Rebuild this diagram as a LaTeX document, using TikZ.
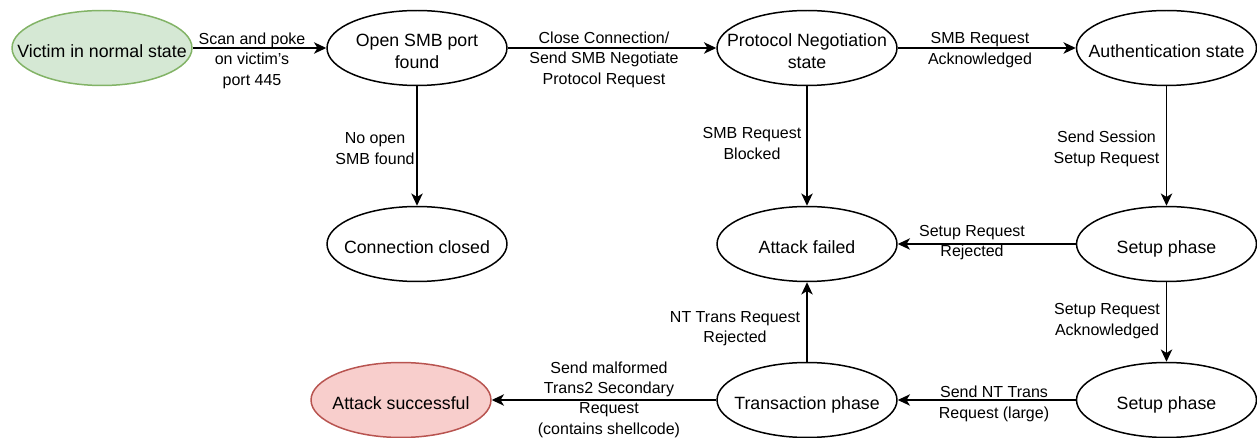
\documentclass[tikz,border=0pt]{standalone}
\usepackage{fontspec}
\setmainfont{Liberation Sans}
\usetikzlibrary{shapes.geometric,arrows.meta}
\definecolor{startfill}{HTML}{D5E8D4}
\definecolor{startline}{HTML}{82B366}
\definecolor{goalfill}{HTML}{F8CECC}
\definecolor{goalline}{HTML}{B85450}
% state text is centred without widening the fixed-size ellipse,
% and set a little below the centre line
\newcommand\statetext[1]{\makebox[0pt]{\raisebox{-3pt}[\height][\depth]{\begin{tabular}{@{}c@{}}#1\end{tabular}}}}
\begin{document}
\begin{tikzpicture}[x=0.02cm,y=-0.02cm,
  state/.style={ellipse, draw=black, line width=0.85pt, fill=white,
    minimum width=3.6cm, minimum height=1.5cm, inner sep=0pt,
    font=\fontsize{10.1}{12.3}\selectfont},
  startstate/.style={state, draw=startline, fill=startfill},
  goalstate/.style={state, draw=goalline, fill=goalfill},
  lbl/.style={inner sep=0pt, align=center, font=\fontsize{9.1}{11.6}\selectfont},
  flow/.style={draw, line width=0.85pt, -{Stealth[length=7pt,width=6.5pt,inset=2pt]}}]
\useasboundingbox (0,0) rectangle (1257,438);

% states
\node[startstate] (victim)  at (102,48)    {\statetext{Victim in normal state}};
\node[state]      (open)    at (417,48)    {\statetext{Open SMB port\\found}};
\node[state]      (proto)   at (807,48)    {\statetext{Protocol Negotiation\\state}};
\node[state]      (auth)    at (1166.5,48) {\statetext{Authentication state}};
\node[state]      (closed)  at (417,244)   {\statetext{Connection closed}};
\node[state]      (failed)  at (807,244)   {\statetext{Attack failed}};
\node[state]      (setupA)  at (1166.5,244){\statetext{Setup phase}};
\node[goalstate]  (success) at (401,400)   {\statetext{Attack successful}};
\node[state]      (trans)   at (807,400)   {\statetext{Transaction phase}};
\node[state]      (setupB)  at (1166.5,400){\statetext{Setup phase}};

% transitions
\draw[flow] (victim.east) -- (open.west);
\draw[flow] (open.east) -- (proto.west);
\draw[flow] (proto.east) -- (auth.west);
\draw[flow] (open.south) -- (closed.north);
\draw[flow] (proto.south) -- (failed.north);
\draw[flow] (auth.south) -- (setupA.north);
\draw[flow] (setupA.west) -- (failed.east);
\draw[flow] (setupA.south) -- (setupB.north);
\draw[flow] (setupB.west) -- (trans.east);
\draw[flow] (trans.north) -- (failed.south);
\draw[flow] (trans.west) -- (success.east);

% transition labels
\node[lbl] (l1)  at (252,60.5)    {Scan and poke\\on victim's\\port 445};
\node[lbl] (l2)  at (604,59.5)    {Close Connection/\\Send SMB Negotiate\\Protocol Request};
\node[lbl] (l3)  at (980,50)      {SMB Request\\Acknowledged};
\node[lbl] (l4)  at (375,148.5)   {No open\\SMB found};
\node[lbl] (l5)  at (752,143.5)   {SMB Request\\Blocked};
\node[lbl] (l6)  at (1106.5,148.7){Send Session\\Setup Request};
\node[lbl] (l7)  at (972,242.7)   {Setup Request\\Rejected};
\node[lbl] (l8)  at (1107,321)    {Setup Request\\Acknowledged};
\node[lbl] (l9)  at (994,403.7)   {Send NT Trans\\Request (large)};
\node[lbl] (l10) at (735,328.5)   {NT Trans Request\\Rejected};
\node[lbl] (l11) at (609,399.5)   {Send malformed\\Trans2 Secondary\\Request\\(contains shellcode)};
\end{tikzpicture}
\end{document}
